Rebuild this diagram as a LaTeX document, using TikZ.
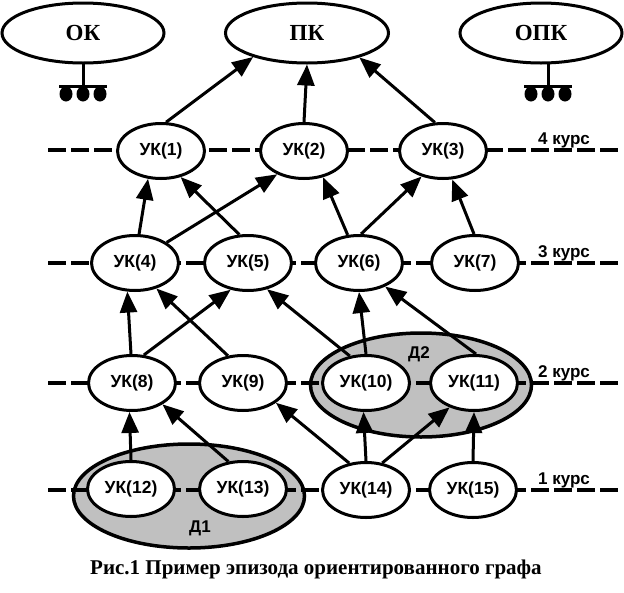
\documentclass[tikz,border=0pt]{standalone}
\usepackage{fontspec}
\setmainfont{Liberation Serif}
\setsansfont{Liberation Sans}
\usepackage{tikz}
\usetikzlibrary{arrows.meta,shapes.geometric}
\definecolor{grgray}{RGB}{192,192,192}
\tikzstyle{course} = [ellipse, draw, line width=3pt, fill=white, minimum width=87pt, minimum height=55pt, inner sep=0pt, font=\sffamily\bfseries\fontsize{17.5}{20}\selectfont]
\tikzstyle{topblock} = [ellipse, draw, line width=3pt, fill=white, minimum width=162pt, minimum height=60pt, inner sep=0pt, font=\rmfamily\bfseries\fontsize{23}{27}\selectfont]
\tikzstyle{dgroup} = [ellipse, draw, line width=3.5pt, fill=grgray, inner sep=0pt]
\tikzstyle{courseline} = [line width=4pt, dash pattern=on 18pt off 5pt]
\tikzstyle{coursetext} = [font=\sffamily\bfseries\fontsize{17}{20}\selectfont, inner sep=0pt]
\tikzstyle{arrow} = [line width=3pt, -{Triangle[length=21pt,width=17pt]}]

\begin{document}
\begin{tikzpicture}[x=1pt, y=-1pt]
\useasboundingbox (0,0) rectangle (624,592);
% Groups
\node (d1) [dgroup, minimum width=231pt, minimum height=104pt] at (189,496) {};
\node (d2) [dgroup, minimum width=221pt, minimum height=104pt] at (421,385) {};
\node (d1t) [coursetext] at (200,528) {Д1};
\node (d2t) [coursetext] at (419,354) {Д2};

% Course lines
\foreach \y/\n in {150/4,263/3,383/2,490/1} {
  \draw[courseline] (48,\y) -- (618,\y);
  \node (kurs\n) [coursetext, anchor=base] at (564,\y-6) {\n\ курс};
}

% Top blocks
\node (ok) [topblock] at (83,33) {ОК};
\node (pk) [topblock, minimum width=163pt] at (307,33) {ПК};
\node (opk) [topblock] at (541,33) {ОПК};
\foreach \gx in {83,548} {
  \draw[line width=3pt] (\gx,64) -- (\gx,86);
  \draw[line width=3pt] (\gx-24,86) -- (\gx+24,86);
  \foreach \dx in {-17,0,17}
    \fill (\gx+\dx,94) ellipse (6.5 and 7.5);
}

% Courses
\node (uk1) [course] at (161,151) {УК(1)};
\node (uk2) [course] at (304,151) {УК(2)};
\node (uk3) [course] at (443,151) {УК(3)};
\node (uk4) [course] at (135,263) {УК(4)};
\node (uk5) [course] at (248,263) {УК(5)};
\node (uk6) [course] at (359,263) {УК(6)};
\node (uk7) [course] at (475,263) {УК(7)};
\node (uk8) [course] at (132,383) {УК(8)};
\node (uk9) [course] at (243,383) {УК(9)};
\node (uk10) [course] at (366,383) {УК(10)};
\node (uk11) [course] at (474,383) {УК(11)};
\node (uk12) [course] at (131,489) {УК(12)};
\node (uk13) [course] at (243,489) {УК(13)};
\node (uk14) [course] at (366,490) {УК(14)};
\node (uk15) [course] at (473,490) {УК(15)};

% Arrows
\draw[arrow] (uk1.80) -- (pk.204);
\draw[arrow] (uk2.north) -- (pk.south);
\draw[arrow] (uk3.106) -- (pk.335);
\draw[arrow] (uk4.82) -- (uk1.245);
\draw[arrow] (uk5.107) -- (uk1.307);
\draw[arrow] (uk4.33) -- (uk2.221);
\draw[arrow] (uk6.112) -- (uk2.306);
\draw[arrow] (uk6.86) -- (uk3.230);
\draw[arrow] (uk7.92) -- (uk3.288);
\draw[arrow] (uk8.92) -- (uk4.255);
\draw[arrow] (uk8.67) -- (uk5.237);
\draw[arrow] (uk9.119) -- (uk4.310);
\draw[arrow] (uk10.121) -- (uk5.306);
\draw[arrow] (uk10.north) -- (uk6.south);
\draw[arrow] (uk11.86) -- (uk6.318);
\draw[arrow] (uk12.north) -- (uk8.265);
\draw[arrow] (uk13.118) -- (uk8.325);
\draw[arrow] (uk14.122) -- (uk9.329);
\draw[arrow] (uk14.north) -- (uk10.265);
\draw[arrow] (uk14.59) -- (uk11.225);
\draw[arrow] (uk15.north) -- (uk11.south);

% Caption
\node (caption) [font=\rmfamily\bfseries\fontsize{21}{24}\selectfont] at (316,569) {Рис.1 Пример эпизода ориентированного графа};
\end{tikzpicture}
\end{document}
